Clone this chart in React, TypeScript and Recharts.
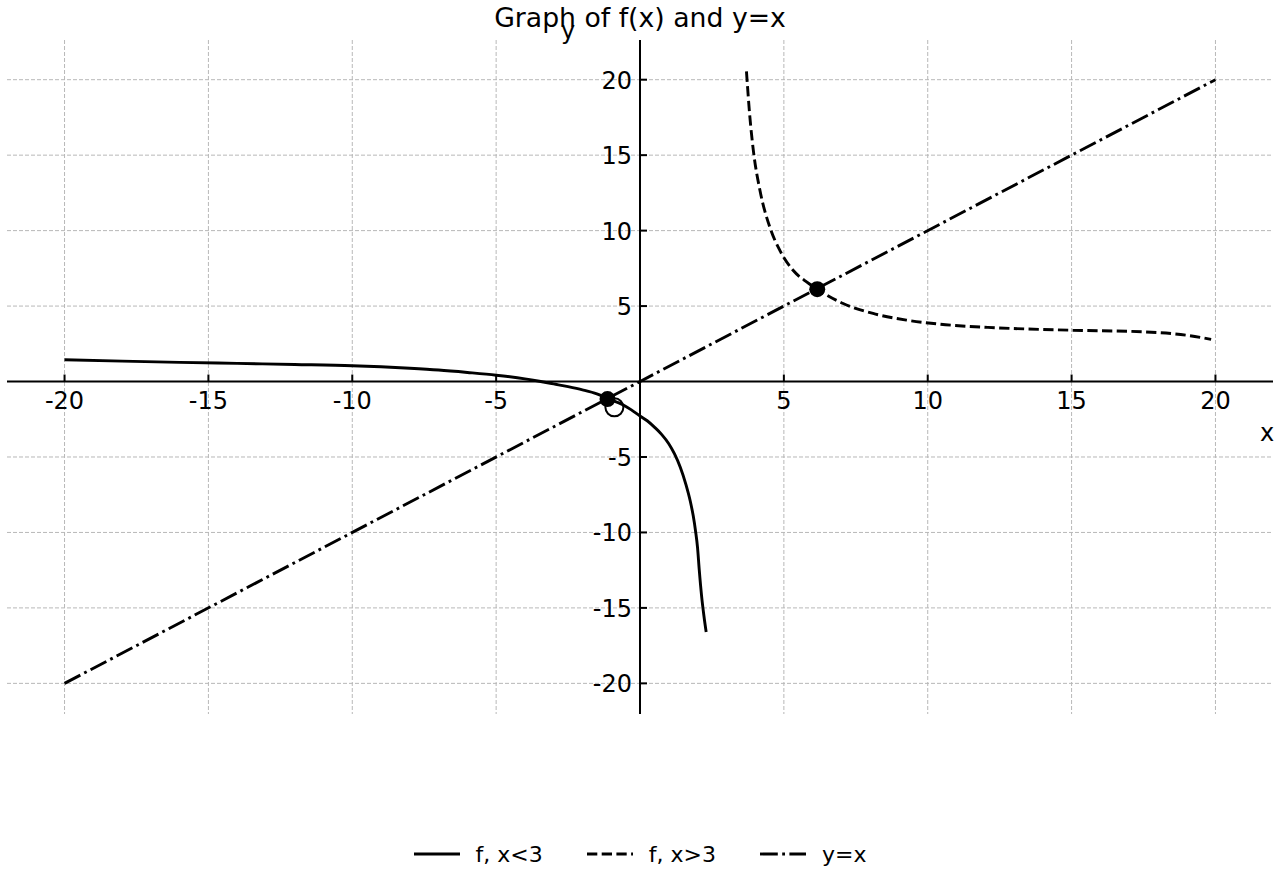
import { ComposedChart, Line, XAxis, YAxis, CartesianGrid, ReferenceLine, ReferenceDot, Legend } from 'recharts';

const FONT = '"DejaVu Sans", sans-serif';
const TICK_FS = 24;

// f for x<3 (solid)
const leftX = [-20, -18, -16, -14, -12, -10, -9, -8, -7, -6, -5, -4, -3.5, -3, -2.5, -2, -1.5, -1.13, -0.58, -0.3, 0, 0.25, 0.5, 0.75, 1, 1.2, 1.4, 1.6, 1.75, 1.85, 1.93, 2, 2.06, 2.14, 2.22, 2.3];
const leftY = [1.44, 1.35, 1.27, 1.2, 1.13, 1.05, 0.98, 0.88, 0.76, 0.6, 0.42, 0.18, 0.02, -0.16, -0.34, -0.55, -0.82, -1.13, -1.55, -1.88, -2.28, -2.6, -3.02, -3.5, -4.12, -4.8, -5.68, -6.85, -7.95, -8.9, -9.9, -11, -12.5, -14.2, -15.5, -16.6];

// f for x>3 (dashed)
const rightX = [3.7, 3.82, 3.94, 4.17, 4.51, 4.86, 5.32, 5.79, 6.16, 7.06, 8.1, 9.26, 10.42, 12.38, 15.05, 17.48, 18.98, 19.85];
const rightY = [20.55, 17.5, 15.3, 12.66, 10.24, 8.69, 7.37, 6.6, 6.12, 5.17, 4.51, 4.07, 3.8, 3.56, 3.4, 3.29, 3.07, 2.79];

// y = x (dash-dot)
const identityX = [-20, 20];
const identityY = [-20, 20];

const tickValues = [-20, -15, -10, -5, 5, 10, 15, 20];
const gridValues = [-20, -15, -10, -5, 0, 5, 10, 15, 20];

// intersections (filled) and the hole (open)
const solidMarkers = [
  { x: -1.13, y: -1.16 },
  { x: 6.16, y: 6.12 },
];
const openMarkers = [{ x: -0.89, y: -1.71 }];

const series = [
  { name: 'f, x<3', data: leftX.map((x, i) => ({ x, y: leftY[i] })), dash: undefined as string | undefined },
  { name: 'f, x>3', data: rightX.map((x, i) => ({ x, y: rightY[i] })), dash: '10.3 4.4' },
  { name: 'y=x', data: identityX.map((x, i) => ({ x, y: identityY[i] })), dash: '17.8 4.4 2.8 4.4' },
];

const LW = 2.9;

const renderLegend = () => (
  <div style={{ display: 'flex', justifyContent: 'center', alignItems: 'center', height: 30, fontSize: 22, fontFamily: FONT, color: '#000' }}>
    {series.map((s, i) => (
      <div key={s.name} style={{ display: 'flex', alignItems: 'center', marginLeft: i ? 44 : 0 }}>
        <svg width={46} height={20}>
          <line x1={0} y1={10} x2={46} y2={10} stroke="#000" strokeWidth={LW} strokeDasharray={s.dash} />
        </svg>
        <span style={{ marginLeft: 16 }}>{s.name}</span>
      </div>
    ))}
  </div>
);

export default function App() {
  return (
    <div style={{ position: 'absolute', left: 0, top: 0, width: 1280, height: 880, background: '#fff', fontFamily: FONT }}>
      <ComposedChart width={1280} height={880} margin={{ top: 40, right: 7, bottom: 166, left: 7 }}>
        <CartesianGrid stroke="#b8b8b8" strokeDasharray="4 2" strokeWidth={1} verticalValues={gridValues} horizontalValues={gridValues} />
        <XAxis type="number" dataKey="x" domain={[-22, 22]} ticks={gridValues} allowDataOverflow hide />
        <YAxis type="number" dataKey="y" domain={[-22.03, 22.63]} ticks={gridValues} allowDataOverflow hide />

        <ReferenceLine
          y={0}
          stroke="#000"
          strokeWidth={2}
          label={(p: any) => (
            <text x={p.viewBox.x + p.viewBox.width - 6} y={p.viewBox.y + 59} textAnchor="middle" fontSize={24} fontFamily={FONT} fill="#000">
              x
            </text>
          )}
        />
        <ReferenceLine
          x={0}
          stroke="#000"
          strokeWidth={2}
          label={(p: any) => (
            <text x={p.viewBox.x - 72} y={p.viewBox.y - 1} textAnchor="middle" fontSize={24} fontFamily={FONT} fill="#000">
              y
            </text>
          )}
        />

        {tickValues.map((v) => (
          <ReferenceDot
            key={'xt' + v}
            x={v}
            y={0}
            shape={(p: any) => (
              <g>
                <line x1={p.cx} y1={p.cy} x2={p.cx} y2={p.cy - 7} stroke="#000" strokeWidth={2} />
                <text x={p.cx} y={p.cy + 27} textAnchor="middle" fontSize={TICK_FS} fontFamily={FONT} fill="#000">
                  {v}
                </text>
              </g>
            )}
          />
        ))}
        {tickValues.map((v) => (
          <ReferenceDot
            key={'yt' + v}
            x={0}
            y={v}
            shape={(p: any) => (
              <g>
                <line x1={p.cx} y1={p.cy} x2={p.cx + 7} y2={p.cy} stroke="#000" strokeWidth={2} />
                <text x={p.cx - 8} y={p.cy + 9} textAnchor="end" fontSize={TICK_FS} fontFamily={FONT} fill="#000">
                  {v}
                </text>
              </g>
            )}
          />
        ))}

        {series.map((s) => (
          <Line
            key={s.name}
            data={s.data}
            dataKey="y"
            name={s.name}
            type="monotone"
            stroke="#000"
            strokeWidth={LW}
            strokeDasharray={s.dash}
            dot={false}
            activeDot={false}
            isAnimationActive={false}
          />
        ))}

        {openMarkers.map((m, i) => (
          <ReferenceDot key={'om' + i} x={m.x} y={m.y} r={9} fill="none" stroke="#000" strokeWidth={2} />
        ))}
        {solidMarkers.map((m, i) => (
          <ReferenceDot key={'sm' + i} x={m.x} y={m.y} r={8} fill="#000" stroke="none" />
        ))}

        <Legend verticalAlign="middle" align="center" layout="horizontal" wrapperStyle={{ top: 839, left: 0, width: 1280 }} content={renderLegend} />
      </ComposedChart>
      <div style={{ position: 'absolute', left: 0, top: 2, width: 1280, textAlign: 'center', fontSize: 26.7, color: '#000', pointerEvents: 'none' }}>
        Graph of f(x) and y=x
      </div>
    </div>
  );
}
